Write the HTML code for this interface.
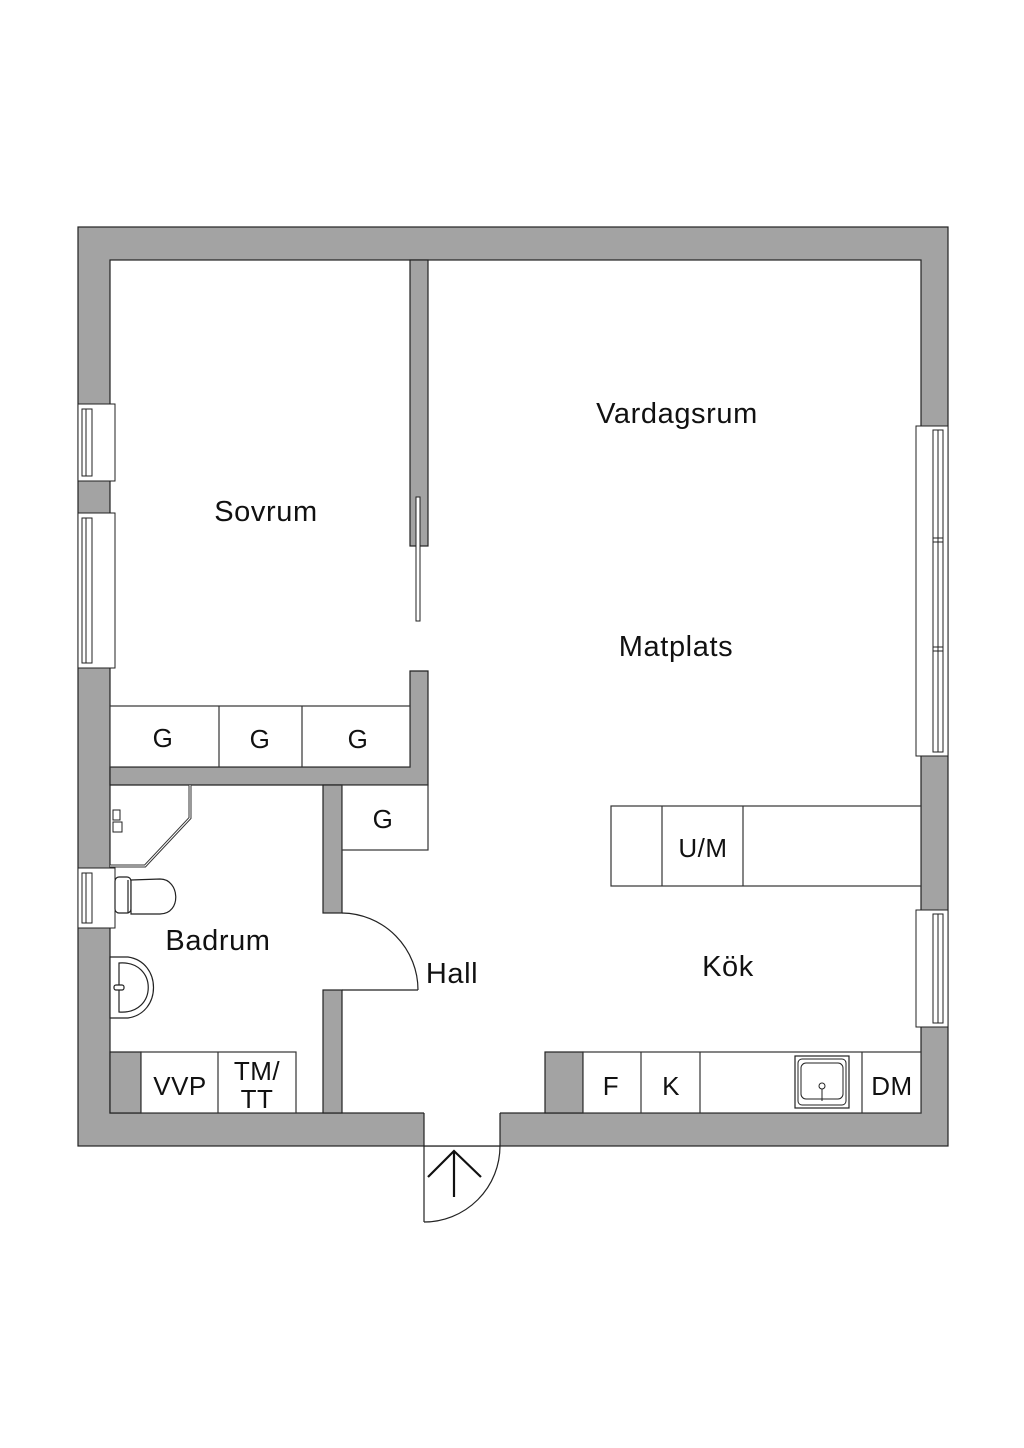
<!DOCTYPE html>
<html><head><meta charset="utf-8"><style>
html,body{margin:0;padding:0;background:#fff;}
svg{display:block;}
text{font-family:"Liberation Sans",sans-serif;fill:#111;}
</style></head><body>
<svg width="1024" height="1448" viewBox="0 0 1024 1448" xmlns="http://www.w3.org/2000/svg">
<rect x="0" y="0" width="1024" height="1448" fill="#fff"/>
<rect x="78" y="227" width="870" height="919" fill="#a3a3a3" stroke="#222" stroke-width="1.2"/>
<rect x="110" y="260" width="811" height="853" fill="#fff" stroke="#222" stroke-width="1.2"/>
<rect x="424" y="1111" width="76" height="35" fill="#fff"/>
<line x1="424" y1="1113" x2="424" y2="1146" stroke="#222" stroke-width="1.2"/>
<line x1="500" y1="1113" x2="500" y2="1146" stroke="#222" stroke-width="1.2"/>
<line x1="424" y1="1146" x2="500" y2="1146" stroke="#222" stroke-width="1.2"/>
<g fill="#a3a3a3" stroke="#222" stroke-width="1.2">
<rect x="410" y="260" width="18" height="286"/>
<polygon points="410,671 428,671 428,785 110,785 110,767 410,767"/>
<rect x="323" y="785" width="19" height="128"/>
<rect x="323" y="990" width="19" height="123"/>
<rect x="110" y="1052" width="31" height="61"/>
<rect x="545" y="1052" width="38" height="61"/>
</g>
<rect x="111" y="768" width="316" height="16" fill="#a3a3a3"/>
<rect x="411" y="672" width="16" height="110" fill="#a3a3a3"/>
<rect x="416" y="497" width="4" height="124" fill="#fff" stroke="#222" stroke-width="1"/>
<g fill="#fff" stroke="#222" stroke-width="1">
<rect x="78" y="404" width="37" height="77"/>
<rect x="82" y="409" width="10" height="67"/><line x1="86" y1="409" x2="86" y2="476"/>
<rect x="78" y="513" width="37" height="155"/>
<rect x="82" y="518" width="10" height="145"/><line x1="86" y1="518" x2="86" y2="663"/>
<rect x="78" y="868" width="37" height="60"/>
<rect x="82" y="873" width="10" height="50"/><line x1="86" y1="873" x2="86" y2="923"/>
<rect x="916" y="426" width="32" height="330"/>
<rect x="933" y="430" width="10" height="322"/><line x1="938" y1="430" x2="938" y2="752"/>
<line x1="933" y1="538" x2="943" y2="538"/><line x1="933" y1="542" x2="943" y2="542"/>
<line x1="933" y1="647" x2="943" y2="647"/><line x1="933" y1="651" x2="943" y2="651"/>
<rect x="916" y="910" width="32" height="117"/>
<rect x="933" y="914" width="10" height="109"/><line x1="938" y1="914" x2="938" y2="1023"/>
</g>
<g fill="#fff" stroke="#333" stroke-width="1.2">
<rect x="110" y="706" width="300" height="61"/>
<line x1="219" y1="706" x2="219" y2="767"/><line x1="302" y1="706" x2="302" y2="767"/>
<rect x="342" y="785" width="86" height="65"/>
<rect x="611" y="806" width="310" height="80"/>
<line x1="662" y1="806" x2="662" y2="886"/><line x1="743" y1="806" x2="743" y2="886"/>
<rect x="583" y="1052" width="338" height="61"/>
<line x1="641" y1="1052" x2="641" y2="1113"/><line x1="700" y1="1052" x2="700" y2="1113"/><line x1="862" y1="1052" x2="862" y2="1113"/>
<rect x="141" y="1052" width="155" height="61"/>
<line x1="218" y1="1052" x2="218" y2="1113"/>
</g>
<rect x="795" y="1056" width="54" height="52" fill="#fff" stroke="#222" stroke-width="1.2"/>
<rect x="798" y="1059" width="48" height="46" rx="4" fill="none" stroke="#222" stroke-width="1"/>
<rect x="801" y="1063" width="42" height="36" rx="5" fill="none" stroke="#222" stroke-width="1"/>
<circle cx="822" cy="1086" r="3" fill="none" stroke="#222"/><line x1="822" y1="1089" x2="822" y2="1101" stroke="#222"/>
<polyline points="190,785 190,818 145,866 110,866" fill="none" stroke="#333" stroke-width="3"/>
<polyline points="190,785 190,818 145,866 110,866" fill="none" stroke="#fff" stroke-width="1"/>
<g stroke="#222" fill="#fff" stroke-width="1">
<rect x="113" y="810" width="7" height="10"/><rect x="113" y="822" width="9" height="10"/>
</g>
<g fill="#fff" stroke="#222" stroke-width="1.2">
<rect x="115" y="877" width="16" height="36" rx="4"/>
<path d="M131,880 L160,879 C180,879 182,914 160,914 L131,914 Z"/>
<line x1="128" y1="880" x2="128" y2="913"/>
<path d="M110,957 L128,957 C162,962 162,1013 128,1018 L110,1018 Z"/>
<path d="M119,963 C158,960 158,1015 119,1012 Z"/>
<rect x="114" y="985" width="10" height="5" rx="2"/>
</g>
<g fill="none" stroke="#222" stroke-width="1.2">
<line x1="342" y1="990" x2="418" y2="990"/>
<path d="M342,913 A77,77 0 0 1 418,990"/>
<line x1="424" y1="1146" x2="424" y2="1222"/>
<path d="M424,1222 A76,76 0 0 0 500,1146"/>
</g>
<g stroke="#111" stroke-width="2.2" fill="none">
<line x1="454" y1="1152" x2="454" y2="1197"/>
<polyline points="428,1177 454,1151 481,1177"/>
</g>
<g font-size="29" text-anchor="middle" letter-spacing="0.6">
<text x="677" y="423">Vardagsrum</text>
<text x="266" y="521">Sovrum</text>
<text x="676" y="656">Matplats</text>
<text x="218" y="950">Badrum</text>
<text x="452" y="983">Hall</text>
<text x="728" y="976">Kök</text>
</g>
<g font-size="26" text-anchor="middle" letter-spacing="0.5">
<text x="163" y="747">G</text>
<text x="260" y="748">G</text>
<text x="358" y="748">G</text>
<text x="383" y="828">G</text>
<text x="703" y="857">U/M</text>
<text x="611" y="1095">F</text>
<text x="671" y="1095">K</text>
<text x="892" y="1095">DM</text>
<text x="180" y="1095">VVP</text>
<text x="257" y="1080">TM/</text>
<text x="257" y="1108">TT</text>
</g>
</svg>
</body></html>
